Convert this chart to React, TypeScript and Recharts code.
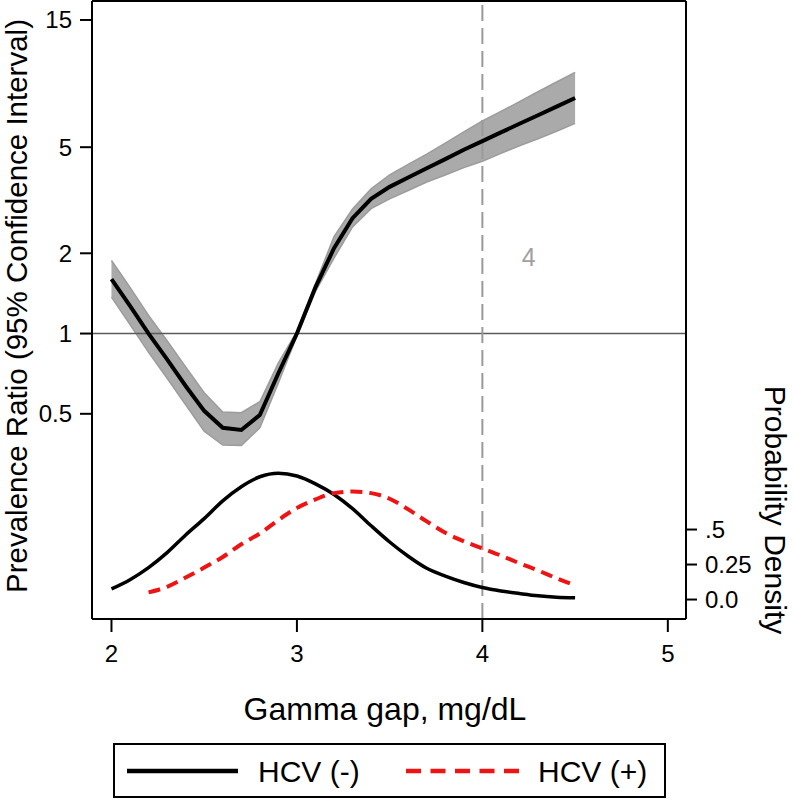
import React from "react"
import {
  Area,
  ComposedChart,
  Label,
  Line,
  ReferenceDot,
  ReferenceLine,
  XAxis,
  YAxis,
} from "recharts"

const FONT = '"Liberation Sans", Arial, Helvetica, sans-serif'
const RED = "#ee1414"

// gamma gap, mg/dL
const GAP = [
  2.0, 2.1, 2.2, 2.3, 2.4, 2.5, 2.6, 2.7, 2.8, 2.9, 3.0, 3.1, 3.2, 3.3, 3.4, 3.5,
  3.6, 3.7, 3.8, 3.9, 4.0, 4.1, 4.2, 4.3, 4.4, 4.5,
]
// prevalence ratio + 95% CI
const PR = [
  1.6, 1.27, 1.0, 0.8, 0.636, 0.513, 0.443, 0.435, 0.495, 0.71, 1.0, 1.49, 2.09,
  2.71, 3.2, 3.55, 3.85, 4.17, 4.51, 4.89, 5.27, 5.68, 6.12, 6.59, 7.1, 7.65,
]
const PR_LO = [
  1.37, 1.08, 0.85, 0.68, 0.54, 0.43, 0.382, 0.38, 0.443, 0.652, 0.98, 1.44,
  1.92, 2.51, 2.94, 3.2, 3.44, 3.7, 3.93, 4.19, 4.43, 4.74, 5.06, 5.38, 5.74, 6.14,
]
const PR_HI = [
  1.88, 1.49, 1.17, 0.94, 0.75, 0.6, 0.508, 0.505, 0.555, 0.776, 1.02, 1.54,
  2.31, 2.93, 3.49, 3.94, 4.31, 4.71, 5.18, 5.71, 6.27, 6.81, 7.4, 8.07, 8.78, 9.54,
]
// kernel densities
const DENS_NEG = [
  0.076, 0.142, 0.228, 0.335, 0.461, 0.578, 0.705, 0.806, 0.877, 0.902, 0.882,
  0.826, 0.75, 0.649, 0.527, 0.411, 0.309, 0.223, 0.167, 0.122, 0.086, 0.061,
  0.043, 0.027, 0.017, 0.012,
]
const DENS_POS = [
  null, null, 0.051, 0.091, 0.157, 0.228, 0.304, 0.395, 0.472, 0.568, 0.654,
  0.715, 0.76, 0.771, 0.76, 0.72, 0.644, 0.558, 0.477, 0.416, 0.365, 0.314,
  0.259, 0.208, 0.152, 0.101,
]

const X_TICKS = [2, 3, 4, 5]
const PR_TICKS = [0.5, 1, 2, 5, 15]
const PD_TICKS = [0, 0.25, 0.5]
const PD_LABELS = ["0.0", "0.25", ".5"]
const CUTOFF = 4
const CUTOFF_LABEL = { x: 4.25, y: 1.94, text: "4" }
const SERIES_NAMES = ["HCV (-)", "HCV (+)"]

const X_DOMAIN = [1.895, 5.098]
const PR_DOMAIN = [0.085, 17.67]
const PD_DOMAIN = [-0.139, 4.275]

const data = GAP.map((g, i) => ({
  gap: g,
  pr: PR[i],
  band: [PR_LO[i], PR_HI[i]],
  neg: DENS_NEG[i],
  pos: DENS_POS[i],
}))

const tickStyle = { fontSize: 24, fill: "#000", fontFamily: FONT }
const axisStroke = { stroke: "#000", strokeWidth: 2 }

function LeftTitle(props: any) {
  const { x, y, height } = props.viewBox
  const tx = x + 27
  const ty = y + height / 2 - 4
  return (
    <text x={tx} y={ty} transform={`rotate(-90 ${tx} ${ty})`} textAnchor="middle" fontSize={29.5} fontFamily={FONT} fill="#000">
      Prevalence Ratio (95% Confidence Interval)
    </text>
  )
}

function RightTitle(props: any) {
  const { x, y } = props.viewBox
  const tx = x + 79
  const ty = y + 509
  return (
    <text x={tx} y={ty} transform={`rotate(90 ${tx} ${ty})`} textAnchor="middle" fontSize={30} fontFamily={FONT} fill="#000">
      Probability Density
    </text>
  )
}

function BottomTitle(props: any) {
  const { x, y, width } = props.viewBox
  return (
    <text x={x + width / 2 - 4} y={y + 101} textAnchor="middle" fontSize={32} fontFamily={FONT} fill="#000">
      Gamma gap, mg/dL
    </text>
  )
}

function CutoffText(props: any) {
  const { x, y } = props.viewBox
  return (
    <text x={x} y={y + 9} textAnchor="middle" fontSize={25} fontFamily={FONT} fill="#a0a0a0">
      {CUTOFF_LABEL.text}
    </text>
  )
}

function LegendBox() {
  return (
    <svg width={553} height={56} style={{ position: "absolute", left: 113, top: 743 }}>
      <rect x={1} y={1} width={551} height={53} fill="#fff" stroke="#000" strokeWidth={2} />
      <line x1={14} x2={125} y1={28} y2={28} stroke="#000" strokeWidth={4.5} />
      <text x={145} y={39} fontSize={30} fontFamily={FONT} fill="#000">
        {SERIES_NAMES[0]}
      </text>
      <line x1={293} x2={406} y1={28} y2={28} stroke={RED} strokeWidth={4.5} strokeDasharray="15 9.5" />
      <text x={425} y={39} fontSize={30} fontFamily={FONT} fill="#000">
        {SERIES_NAMES[1]}
      </text>
    </svg>
  )
}

export default function App() {
  return (
    <div style={{ position: "absolute", left: 0, top: 0, width: 793, height: 800, background: "#fff" }}>
      <ComposedChart
        width={793}
        height={800}
        data={data}
        margin={{ top: 1, right: 0, bottom: 121, left: 0 }}
      >
        <XAxis
          dataKey="gap"
          type="number"
          domain={X_DOMAIN}
          ticks={X_TICKS}
          allowDataOverflow
          height={60}
          tick={tickStyle}
          tickSize={13}
          tickMargin={13}
          axisLine={axisStroke}
          tickLine={axisStroke}
        >
          <Label content={BottomTitle} />
        </XAxis>
        <YAxis
          yAxisId="pr"
          orientation="left"
          scale="log"
          type="number"
          domain={PR_DOMAIN}
          ticks={PR_TICKS}
          allowDataOverflow
          width={92}
          tick={tickStyle}
          tickSize={12}
          tickMargin={8}
          axisLine={axisStroke}
          tickLine={axisStroke}
        >
          <Label content={LeftTitle} />
        </YAxis>
        <YAxis
          yAxisId="pd"
          orientation="right"
          type="number"
          domain={PD_DOMAIN}
          ticks={PD_TICKS}
          allowDataOverflow
          width={107}
          tick={tickStyle}
          tickFormatter={(v: number) => PD_LABELS[PD_TICKS.indexOf(v)] ?? String(v)}
          tickSize={11}
          tickMargin={8}
          axisLine={axisStroke}
          tickLine={axisStroke}
        >
          <Label content={RightTitle} />
        </YAxis>

        <ReferenceLine yAxisId="pr" y={PR_DOMAIN[1]} stroke="#000" strokeWidth={2} />
        <ReferenceLine yAxisId="pr" y={1} stroke="#5a5a5a" strokeWidth={1.6} />
        <ReferenceLine
          yAxisId="pr"
          x={CUTOFF}
          stroke="#9a9a9a"
          strokeWidth={2}
          strokeDasharray="16 7"
        />

        <Area
          yAxisId="pr"
          dataKey="band"
          type="linear"
          fill="#aaaaaa"
          fillOpacity={1}
          stroke="#9c9c9c"
          strokeWidth={1.5}
          isAnimationActive={false}
        />
        <Line
          yAxisId="pr"
          dataKey="pr"
          type="linear"
          stroke="#000"
          strokeWidth={4}
          dot={false}
          isAnimationActive={false}
        />
        <Line
          yAxisId="pd"
          dataKey="neg"
          type="monotone"
          stroke="#000"
          strokeWidth={3.5}
          dot={false}
          isAnimationActive={false}
        />
        <Line
          yAxisId="pd"
          dataKey="pos"
          type="monotone"
          stroke={RED}
          strokeWidth={4}
          strokeDasharray="12 7"
          dot={false}
          isAnimationActive={false}
        />
        <ReferenceDot
          yAxisId="pr"
          x={CUTOFF_LABEL.x}
          y={CUTOFF_LABEL.y}
          r={0}
          fill="none"
          stroke="none"
          label={<Label content={CutoffText} />}
        />
      </ComposedChart>
      <LegendBox />
    </div>
  )
}
